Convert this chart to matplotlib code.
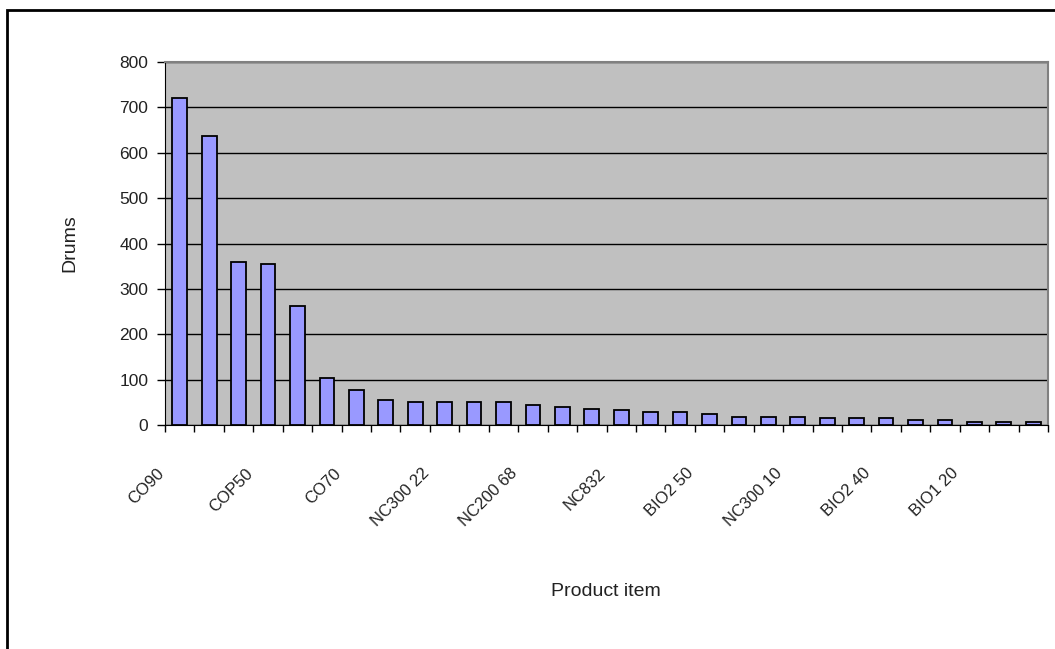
import numpy as np
import matplotlib
matplotlib.use("Agg")
import matplotlib.pyplot as plt
from matplotlib.transforms import ScaledTranslation
from matplotlib.patches import Rectangle

# product items, only every third one is labelled on the chart
labels = ["CO90", "COP50", "CO70", "NC300 22", "NC200 68",
          "NC832", "BIO2 50", "NC300 10", "BIO2 40", "BIO1 20"]
drums = [720, 636, 359, 355, 262, 103, 77, 55, 50, 50,
         50, 50, 45, 40, 36, 32, 28, 28, 24, 18,
         18, 18, 15, 15, 15, 10, 10, 6, 6, 6]

plt.rcParams['font.family'] = ['Liberation Sans', 'DejaVu Sans']
txt = '#222222'

fig = plt.figure(figsize=(10.55, 6.49), dpi=100)
ax = fig.add_axes([165/1055, 1 - 425/649, (1048 - 165)/1055, (425 - 62)/649])
ax.set_facecolor('#C0C0C0')

x = np.arange(len(drums))
ax.bar(x, drums, width=0.5, color='#9999FF', edgecolor='black', linewidth=1.3, zorder=3)

ax.set_xlim(-0.5, len(drums) - 0.5)
ax.set_ylim(0, 800)
ax.set_yticks(np.arange(0, 801, 100))
ax.yaxis.grid(True, color='black', linewidth=1, zorder=1)
ax.set_axisbelow(True)

# tick marks sit between the bars, labels on every third bar
ax.set_xticks(np.arange(-0.5, len(drums)), minor=True)
ax.set_xticks(x[::3])
ax.set_xticklabels(labels, rotation=45, ha='right', va='center',
                   rotation_mode='anchor', fontsize=12, color=txt)
ax.tick_params(axis='x', which='major', length=0, pad=0)
ax.tick_params(axis='x', which='minor', length=5, width=1, direction='out', color='black')
ax.tick_params(axis='y', length=6, width=1, direction='out', labelsize=12.5,
               labelcolor=txt, pad=6)
off = ScaledTranslation(-18 / 100, -46 / 100, fig.dpi_scale_trans)
for lab in ax.get_xticklabels():
    lab.set_transform(lab.get_transform() + off)

for s in ['top', 'right']:
    ax.spines[s].set_color('#808080')
    ax.spines[s].set_linewidth(1.5)
ax.spines['left'].set_color('black')
ax.spines['bottom'].set_color('black')

fig.text(606/1055, 1 - 592/649, 'Product item', ha='center', va='center',
         fontsize=14, color=txt)
fig.text(70/1055, 1 - 243/649, 'Drums', ha='center', va='center',
         rotation=90, fontsize=14, color=txt)

# outer chart frame
fig.patches.append(Rectangle((7/1055, -0.1), 1.2, 1 - 10/649 + 0.1,
                             transform=fig.transFigure, fill=False,
                             edgecolor='black', linewidth=2))

fig.savefig('out.png', dpi=100)
